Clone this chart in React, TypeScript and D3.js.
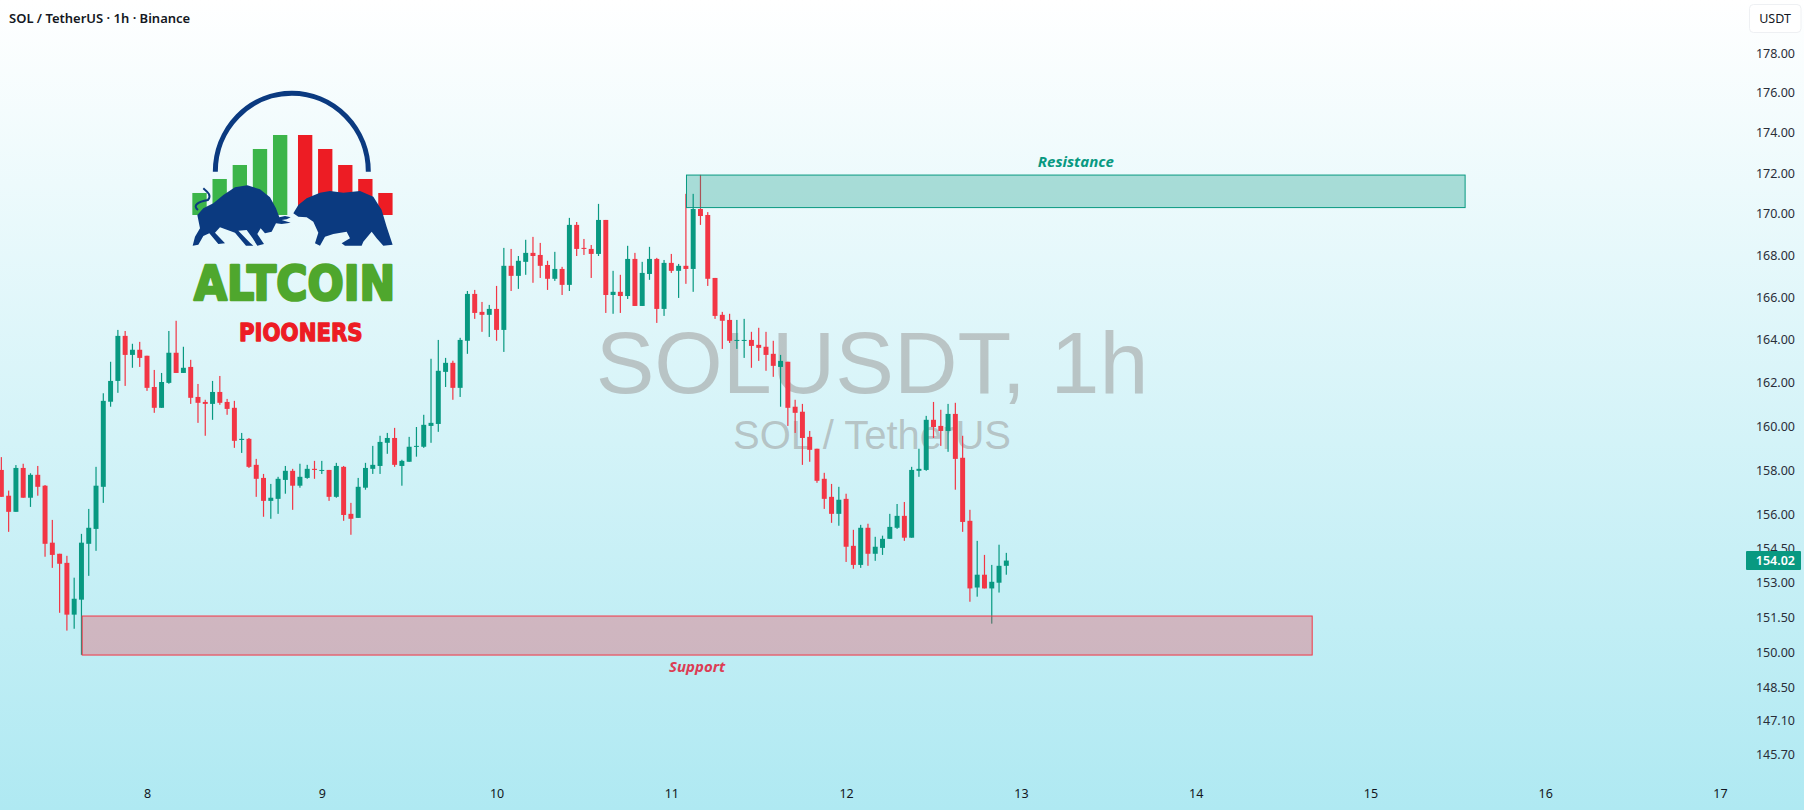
import { useRef, useEffect } from 'react';
import * as d3 from 'd3';

const WIDTH = 1804;
const HEIGHT = 810;

// hourly candles, hour 0 = midnight of day 8
const firstHour = -20;

const candleOpen = [
  158.06, 156.90, 156.18, 158.15, 156.81, 157.84, 157.35, 154.81, 154.32, 153.92,
  151.66, 152.31, 154.76, 155.42, 157.30, 161.17, 162.13, 164.23, 163.34, 163.58,
  163.30, 161.85, 160.89, 162.04, 163.44, 162.50, 162.78, 161.39, 161.16, 161.07,
  161.62, 161.16, 160.89, 159.42, 159.47, 158.29, 157.70, 156.67, 156.76, 157.61,
  158.02, 157.35, 157.70, 158.11, 158.02, 158.06, 156.85, 158.20, 156.09, 155.91,
  157.26, 158.11, 158.24, 159.29, 159.51, 158.24, 158.43, 159.11, 159.11, 160.06,
  160.15, 162.55, 162.97, 161.81, 164.00, 166.21, 165.36, 165.22, 165.50, 164.51,
  167.55, 167.07, 167.74, 168.17, 168.07, 167.59, 166.93, 167.40, 166.64, 169.52,
  168.41, 168.36, 168.12, 169.76, 166.16, 166.31, 166.11, 167.88, 165.64, 167.16,
  167.88, 165.50, 167.69, 167.31, 167.55, 167.40, 170.29, 170.00, 166.97, 165.22,
  164.98, 164.00, 164.00, 164.04, 163.81, 163.72, 163.39, 162.78, 163.02, 160.94,
  160.71, 159.56, 159.02, 157.66, 156.85, 156.09, 156.76, 154.67, 153.83, 155.47,
  154.32, 154.58, 154.98, 155.47, 156.00, 155.03, 158.02, 158.06, 160.34, 160.06,
  159.83, 160.61, 158.61, 155.78, 152.84, 153.40, 152.80, 153.05, 153.79,
];

const candleHigh = [
  158.64, 157.13, 158.28, 158.34, 157.91, 158.24, 157.38, 155.82, 154.32, 154.23,
  153.27, 155.20, 156.31, 158.20, 161.56, 163.02, 164.51, 164.46, 163.86, 163.95,
  163.30, 162.64, 162.50, 164.46, 164.94, 163.72, 163.11, 161.99, 161.26, 162.13,
  162.36, 161.30, 161.21, 159.74, 159.51, 158.56, 157.88, 157.43, 157.75, 158.24,
  158.11, 158.34, 158.29, 158.47, 158.47, 158.06, 158.38, 158.24, 156.58, 157.70,
  158.38, 159.15, 159.61, 159.74, 159.97, 158.52, 159.56, 160.01, 160.57, 163.16,
  164.04, 163.20, 163.07, 164.14, 166.35, 166.40, 165.83, 165.69, 166.59, 168.41,
  168.36, 168.02, 168.80, 168.94, 168.65, 167.79, 168.22, 167.50, 169.86, 169.66,
  168.84, 168.55, 170.54, 169.76, 167.31, 167.12, 168.51, 168.17, 167.74, 168.46,
  167.93, 167.83, 168.12, 167.64, 171.03, 171.03, 171.96, 170.14, 166.97, 165.36,
  165.27, 164.98, 165.03, 164.42, 164.61, 164.42, 164.00, 163.34, 163.02, 161.26,
  161.07, 159.83, 159.02, 157.93, 157.43, 157.30, 156.99, 155.38, 155.60, 155.65,
  155.07, 155.12, 156.09, 156.53, 156.62, 158.20, 159.02, 160.52, 161.16, 160.80,
  161.07, 161.12, 159.61, 156.27, 154.89, 154.27, 153.83, 154.72, 154.36,
];

const candleLow = [
  156.85, 155.29, 156.18, 156.81, 156.40, 156.90, 154.19, 153.70, 151.74, 150.97,
  151.05, 149.93, 153.35, 154.45, 156.58, 160.94, 161.58, 161.90, 162.74, 162.78,
  161.67, 160.66, 160.89, 162.00, 162.50, 162.50, 161.07, 160.20, 159.61, 160.34,
  161.03, 160.57, 159.06, 158.83, 158.15, 156.85, 155.96, 155.87, 156.09, 156.99,
  156.27, 157.26, 157.66, 157.66, 157.88, 156.67, 156.81, 155.78, 155.16, 155.91,
  157.17, 157.88, 157.88, 158.79, 158.20, 157.35, 158.43, 158.66, 159.06, 159.29,
  159.79, 161.85, 161.26, 161.39, 163.39, 165.03, 164.42, 164.18, 164.00, 163.48,
  166.35, 166.45, 167.12, 166.74, 166.97, 166.40, 166.83, 166.16, 166.35, 168.02,
  168.07, 166.97, 168.02, 165.31, 165.27, 165.31, 165.97, 165.64, 165.64, 166.88,
  164.84, 165.17, 167.21, 166.02, 166.69, 166.31, 169.52, 166.59, 165.03, 163.62,
  163.90, 163.62, 163.20, 162.74, 163.06, 162.60, 162.32, 160.94, 160.06, 159.74,
  158.29, 158.43, 157.48, 156.31, 155.69, 155.56, 153.96, 153.66, 153.70, 153.79,
  154.01, 154.27, 154.98, 155.42, 154.89, 155.03, 157.75, 158.02, 159.51, 159.15,
  158.88, 157.17, 155.29, 152.22, 152.44, 152.80, 151.27, 152.62, 153.40,
];

const candleClose = [
  156.85, 156.18, 158.15, 156.81, 157.84, 157.30, 154.76, 154.27, 153.88, 151.66,
  152.35, 154.81, 155.47, 157.35, 161.21, 162.13, 164.23, 163.34, 163.58, 163.20,
  161.81, 160.89, 162.08, 163.44, 162.50, 162.74, 161.35, 161.12, 161.07, 161.62,
  161.12, 160.84, 159.38, 159.47, 158.20, 157.66, 156.67, 156.81, 157.66, 158.02,
  157.35, 157.75, 158.11, 158.06, 158.06, 156.85, 158.24, 156.04, 155.87, 157.30,
  158.15, 158.29, 159.33, 159.51, 158.29, 158.47, 159.11, 159.15, 160.11, 160.20,
  162.60, 162.97, 161.81, 164.04, 166.21, 165.31, 165.22, 165.50, 164.51, 167.55,
  167.07, 167.79, 168.17, 168.02, 167.55, 166.93, 167.40, 166.64, 169.52, 168.36,
  168.36, 168.12, 169.76, 166.16, 166.31, 166.11, 167.88, 165.64, 167.21, 167.88,
  165.50, 167.69, 167.31, 167.55, 167.40, 170.29, 169.95, 166.93, 165.17, 164.94,
  164.00, 164.04, 164.04, 163.76, 163.67, 163.34, 162.83, 163.06, 160.89, 160.66,
  159.51, 158.97, 157.57, 156.76, 156.09, 156.72, 154.63, 153.83, 155.47, 154.32,
  154.63, 154.98, 155.51, 156.00, 155.03, 158.06, 158.11, 160.34, 160.01, 159.83,
  160.61, 158.56, 155.73, 152.80, 153.40, 152.80, 153.09, 153.79, 154.02,
];

const priceTicks = [178, 176, 174, 172, 170, 168, 166, 164, 162, 160, 158, 156, 154.5, 153, 151.5, 150, 148.5, 147.1, 145.7];
const dayTicks = [8, 9, 10, 11, 12, 13, 14, 15, 16, 17];
const lastPrice = 154.02;

// zones: [start hour, end hour, top price, bottom price]
const resistanceZone = [74.08, 181, 171.95, 170.36];
const supportZone = [-8.9, 160, 151.6, 149.92];

// logo bars, heights in logo units
const logoGreenBars = [66, 108, 150, 198, 240];
const logoRedBars = [240, 198, 150, 108, 66];

const UP = '#089981';
const DOWN = '#f23645';
const LABEL = '#2a2e39';
const UI_FONT = '"Noto Sans", "DejaVu Sans", sans-serif';

const bullPath = 'M68,497 L75,470 L90,445 L82,405 L100,385 L130,370 L160,345 L195,322 L232,316 L270,328 L300,352 L318,385 L328,412 L345,408 L362,412 L350,418 L335,420 L362,428 L335,432 L318,430 L305,455 L285,460 L272,445 L262,462 L282,492 L262,497 L248,475 L230,450 L205,452 L240,488 L250,497 L228,497 L195,458 L150,442 L135,458 L165,490 L145,492 L118,460 L100,468 L85,494 Z';
const bullTail = 'M84,390 C66,376 85,365 114,360 C126,345 112,335 100,325';
const bearPath = 'M370,400 L385,375 L410,355 L450,338 L480,333 L520,338 L570,333 L610,350 L635,390 L650,440 L668,494 L640,497 L620,475 L605,455 L580,485 L575,497 L525,497 L515,490 L540,475 L530,455 L490,462 L465,470 L455,488 L450,497 L435,490 L445,458 L430,425 L410,412 L385,410 Z';

function App() {
  const svgRef = useRef<SVGSVGElement>(null);

  useEffect(() => {
    if (!svgRef.current) return;
    const svg = d3.select(svgRef.current);
    svg.selectAll('*').remove();

    const x = d3.scaleLinear().domain([0, 216]).range([147, 1720]);
    const y = d3.scaleLog().domain([145.7, 178]).range([755, 54]);

    const candles = candleOpen.map((open, i) => ({
      hour: firstHour + i,
      open,
      high: candleHigh[i],
      low: candleLow[i],
      close: candleClose[i],
    }));

    // Background
    const gradient = svg.append('defs').append('linearGradient')
      .attr('id', 'bg-gradient')
      .attr('x1', '0%').attr('y1', '0%')
      .attr('x2', '0%').attr('y2', '100%');
    gradient.append('stop').attr('offset', '0%').attr('stop-color', '#ffffff');
    gradient.append('stop').attr('offset', '100%').attr('stop-color', '#afe9f2');

    svg.append('rect')
      .attr('width', WIDTH).attr('height', HEIGHT)
      .attr('fill', 'url(#bg-gradient)');

    // Watermark
    const watermark = svg.append('g')
      .attr('font-family', '"Liberation Sans", Arial, sans-serif')
      .attr('text-anchor', 'middle')
      .attr('fill', '#8a817e')
      .attr('fill-opacity', 0.42);
    watermark.append('text').attr('x', 872).attr('y', 393).attr('font-size', 88).text('SOLUSDT, 1h');
    watermark.append('text').attr('x', 872).attr('y', 449).attr('font-size', 40).text('SOL / TetherUS');

    // Logo, drawn in zoomed units
    const logo = svg.append('g').attr('transform', 'translate(170,80) scale(0.3333)');
    const barWidth = 43;
    const barBottom = 405;
    logo.selectAll('.bar-up')
      .data(logoGreenBars)
      .enter()
      .append('rect')
      .attr('class', 'bar-up')
      .attr('x', (_d, i) => 67 + i * 60.5)
      .attr('y', d => barBottom - d)
      .attr('width', barWidth)
      .attr('height', d => d)
      .attr('fill', '#3cb54a');
    logo.selectAll('.bar-down')
      .data(logoRedBars)
      .enter()
      .append('rect')
      .attr('class', 'bar-down')
      .attr('x', (_d, i) => 384 + i * 60.2)
      .attr('y', d => barBottom - d)
      .attr('width', barWidth)
      .attr('height', d => d)
      .attr('fill', '#ed1c24');
    logo.append('path')
      .attr('d', 'M136,275 A229,235 0 0 1 595,275')
      .attr('fill', 'none')
      .attr('stroke', '#0b3a80')
      .attr('stroke-width', 15);
    logo.append('path').attr('d', bullPath).attr('fill', '#0b3a80');
    logo.append('path').attr('d', bullTail).attr('fill', 'none').attr('stroke', '#0b3a80').attr('stroke-width', 6);
    logo.append('path').attr('d', bearPath).attr('fill', '#0b3a80');
    logo.append('text')
      .attr('x', 72).attr('y', 661)
      .attr('font-family', '"DejaVu Sans", sans-serif')
      .attr('font-weight', 700)
      .attr('font-size', 146)
      .attr('textLength', 604)
      .attr('lengthAdjust', 'spacingAndGlyphs')
      .attr('fill', '#4fa72d')
      .attr('stroke', '#4fa72d')
      .attr('stroke-width', 8)
      .attr('stroke-linejoin', 'round')
      .text('ALTCOIN');
    logo.append('text')
      .attr('x', 207).attr('y', 783)
      .attr('font-family', '"DejaVu Sans", sans-serif')
      .attr('font-weight', 700)
      .attr('font-size', 75)
      .attr('textLength', 371)
      .attr('lengthAdjust', 'spacingAndGlyphs')
      .attr('fill', '#ed1c24')
      .attr('stroke', '#ed1c24')
      .attr('stroke-width', 4)
      .attr('stroke-linejoin', 'round')
      .text('PIOONERS');

    // Candles
    const step = x(1) - x(0);
    const bodyWidth = step * 0.68;
    const candle = svg.append('g').selectAll('g')
      .data(candles)
      .enter()
      .append('g')
      .attr('fill', d => (d.close >= d.open ? UP : DOWN));
    candle.append('rect')
      .attr('x', d => x(d.hour) - 0.6)
      .attr('width', 1.2)
      .attr('y', d => y(d.high))
      .attr('height', d => y(d.low) - y(d.high));
    candle.append('rect')
      .attr('x', d => x(d.hour) - bodyWidth / 2)
      .attr('width', bodyWidth)
      .attr('y', d => y(Math.max(d.open, d.close)))
      .attr('height', d => Math.max(1, Math.abs(y(d.open) - y(d.close))));

    // Zones
    const drawZone = (zone: number[], color: string) => {
      svg.append('rect')
        .attr('x', x(zone[0]))
        .attr('y', y(zone[2]))
        .attr('width', x(zone[1]) - x(zone[0]))
        .attr('height', y(zone[3]) - y(zone[2]))
        .attr('fill', color)
        .attr('fill-opacity', 0.3)
        .attr('stroke', color)
        .attr('stroke-width', 1);
    };
    drawZone(resistanceZone, UP);
    drawZone(supportZone, DOWN);

    const zoneLabel = (text: string, hour: number, py: number, color: string) => {
      svg.append('text')
        .attr('x', x(hour))
        .attr('y', py)
        .attr('text-anchor', 'middle')
        .attr('font-family', UI_FONT)
        .attr('font-size', 15)
        .attr('font-weight', 700)
        .attr('font-style', 'italic')
        .attr('fill', color)
        .text(text);
    };
    zoneLabel('Resistance', (resistanceZone[0] + resistanceZone[1]) / 2, y(resistanceZone[2]) - 8, UP);
    zoneLabel('Support', (supportZone[0] + supportZone[1]) / 2, y(supportZone[3]) + 17, '#dc3d55');

    // Price axis
    const priceAxis = svg.append('g')
      .attr('transform', 'translate(1795,-1)')
      .call(d3.axisLeft(y).tickValues(priceTicks).tickSize(0).tickPadding(0).tickFormat(d => d3.format('.2f')(+d)));
    priceAxis.select('.domain').remove();
    priceAxis.selectAll('text')
      .attr('font-family', UI_FONT)
      .style('font-size', '12.5px')
      .attr('fill', LABEL);

    // Day axis
    const dayAxis = svg.append('g')
      .attr('transform', 'translate(0,783)')
      .call(d3.axisBottom(x)
        .tickValues(dayTicks.map(d => (d - 8) * 24))
        .tickSize(0)
        .tickPadding(6)
        .tickFormat(d => String(+d / 24 + 8)));
    dayAxis.select('.domain').remove();
    dayAxis.selectAll('text')
      .attr('font-family', UI_FONT)
      .style('font-size', '12.5px')
      .attr('fill', '#131722');

    // Last price badge
    svg.append('rect')
      .attr('x', 1746).attr('width', 55)
      .attr('y', y(lastPrice) - 9.5).attr('height', 19)
      .attr('rx', 1)
      .attr('fill', UP);
    svg.append('text')
      .attr('x', 1795).attr('y', y(lastPrice))
      .attr('dy', '0.35em')
      .attr('text-anchor', 'end')
      .attr('font-family', UI_FONT)
      .attr('font-size', 12.5)
      .attr('font-weight', 600)
      .attr('fill', '#ffffff')
      .text(d3.format('.2f')(lastPrice));

    // Currency button
    svg.append('rect')
      .attr('x', 1749.5).attr('y', 4.5)
      .attr('width', 51.5).attr('height', 28)
      .attr('rx', 4)
      .attr('fill', '#ffffff')
      .attr('stroke', '#eef0f3');
    svg.append('text')
      .attr('x', 1775).attr('y', 23)
      .attr('text-anchor', 'middle')
      .attr('font-family', UI_FONT)
      .attr('font-size', 12.5)
      .attr('fill', '#131722')
      .text('USDT');

    // Title
    svg.append('text')
      .attr('x', 9).attr('y', 23)
      .attr('font-family', UI_FONT)
      .attr('font-size', 13)
      .attr('font-weight', 600)
      .attr('fill', '#131722')
      .text('SOL / TetherUS · 1h · Binance');
  }, []);

  return (
    <svg
      ref={svgRef}
      width={WIDTH}
      height={HEIGHT}
      style={{ position: 'fixed', left: 0, top: 0, display: 'block' }}
    />
  );
}

export default App;
